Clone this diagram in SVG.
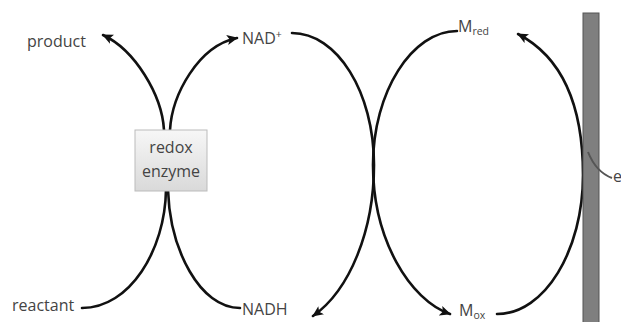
<svg xmlns="http://www.w3.org/2000/svg" width="621" height="322" viewBox="0 0 621 322">
<style>
.lbl{font-family:"Open Sans","Liberation Sans",sans-serif;font-size:16px;fill:#444}
.sub{font-size:10.5px}
.c{fill:none;stroke:#111;stroke-width:2.6;stroke-linecap:round}
.a{marker-end:url(#ah)}
</style>
<defs>
<marker id="ah" markerUnits="userSpaceOnUse" markerWidth="12" markerHeight="10" refX="10" refY="5" orient="auto">
<path d="M0,0 L11,5 L0,10 L2.5,5 z" fill="#111"/>
</marker>
<linearGradient id="bg" x1="0" y1="0" x2="0" y2="1">
<stop offset="0" stop-color="#f7f7f7"/>
<stop offset="1" stop-color="#d9d9d9"/>
</linearGradient>
</defs>
<rect width="621" height="322" fill="#fff"/>
<g id="connectors">
<path class="c a" d="M164 130 C162 95 135 50 103 35"/>
<path class="c a" d="M170 130 C172 95 198 46 237 38"/>
<path class="c" d="M82 308 C130 308 165 250 166 190"/>
<path class="c" d="M168 190 C170 250 200 308 240 308"/>
<path class="c a" d="M292 33 C337 33 374 92 374 165 C374 230 350 290 313 316"/>
<path class="c a" d="M457 31 C412 31 373 92 373 165 C373 240 410 300 450 314"/>
<path class="c a" d="M497 314 C545 314 583 250 583 175 C583 105 562 57 518 34"/>
</g>
<g id="electrode">
<rect x="583" y="13" width="16" height="320" fill="#7f7f7f" stroke="#555" stroke-width="1"/>
<path d="M588 152 Q596 172 612 178" fill="none" stroke="#555" stroke-width="2"/>
</g>
<g id="enzyme">
<rect x="135" y="130" width="72" height="61" fill="url(#bg)" stroke="#bbb" stroke-width="1"/>
<text class="lbl" x="171" y="153" text-anchor="middle">redox</text>
<text class="lbl" x="171" y="177" text-anchor="middle">enzyme</text>
</g>
<g id="product"><text class="lbl" x="27" y="47">product</text></g>
<g id="nadplus"><text class="lbl" x="242" y="44">NAD<tspan class="sub" dy="-6">+</tspan></text></g>
<g id="reactant"><text class="lbl" x="12" y="311">reactant</text></g>
<g id="nadh"><text class="lbl" x="242" y="315">NADH</text></g>
<g id="mred"><text class="lbl" x="458" y="32">M<tspan class="sub" dy="3">red</tspan></text></g>
<g id="mox"><text class="lbl" x="459" y="316">M<tspan class="sub" dy="3">ox</tspan></text></g>
<g id="e"><text class="lbl" x="613" y="182">e</text></g>
</svg>
